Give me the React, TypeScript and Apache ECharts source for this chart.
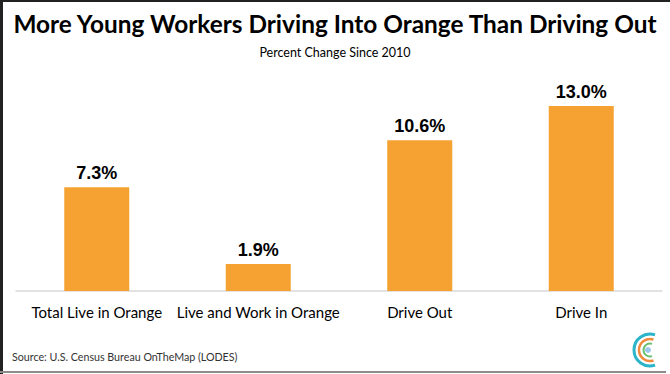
import React, { useEffect, useRef } from "react";
import * as echarts from "echarts";

const categories = ["Total Live in Orange", "Live and Work in Orange", "Drive Out", "Drive In"];
const changes = [7.3, 1.9, 10.6, 13.0];
const titleText = "More Young Workers Driving Into Orange Than Driving Out";
const subtitleText = "Percent Change Since 2010";
const sourceText = "Source: U.S. Census Bureau OnTheMap (LODES)";

export default function App() {
  const ref = useRef<HTMLDivElement>(null);
  useEffect(() => {
    if (!ref.current) return;
    const chart = echarts.init(ref.current, null, { renderer: "svg" });
    const cx = 650;
    const cy = 350;
    const a0 = 1.25;
    const a1 = Math.PI * 2 - 1.25;
    chart.setOption({
      animation: false,
      backgroundColor: "#ffffff",
      title: [
        {
          text: titleText,
          left: "center",
          top: 6,
          textStyle: { fontFamily: "Lato", fontWeight: "bold", fontSize: 24.4, color: "#000" },
        },
        {
          text: subtitleText,
          left: "center",
          top: 41,
          textStyle: { fontFamily: "Lato", fontWeight: "normal", fontSize: 12.5, color: "#000" },
        },
      ],
      grid: { left: 16, right: 8, top: 91.8, bottom: 83 },
      xAxis: {
        type: "category",
        data: categories,
        axisLine: { lineStyle: { color: "#d9d9d9", width: 1.5 } },
        axisTick: { show: false },
        axisLabel: { fontFamily: "Lato", fontSize: 15, color: "#000", margin: 13, interval: 0 },
      },
      yAxis: { type: "value", min: 0, max: 14, show: false, splitLine: { show: false } },
      series: [
        {
          type: "bar",
          data: changes,
          barWidth: 65,
          itemStyle: { color: "#F5A232" },
          label: {
            show: true,
            position: "top",
            distance: 5,
            formatter: (p: any) => `${Number(p.value).toFixed(1)}%`,
            fontFamily: "Liberation Sans",
            fontWeight: "bold",
            fontSize: 18,
            color: "#000",
          },
        },
      ],
      graphic: [
        { type: "rect", shape: { x: 0, y: 0, width: 3, height: 374 }, style: { fill: "#222" } },
        { type: "rect", shape: { x: 0, y: 0, width: 670, height: 2 }, style: { fill: "#222" } },
        { type: "rect", shape: { x: 0, y: 371, width: 666, height: 2 }, style: { fill: "#8c8c8c" } },
        {
          type: "text",
          left: 12,
          top: 351,
          style: { text: sourceText, fontFamily: "Lato", fontSize: 10.7, fill: "#333" },
        },
        {
          type: "arc",
          shape: { cx, cy, r: 16, startAngle: a0, endAngle: a1, clockwise: true },
          style: { stroke: "#2cb4c8", lineWidth: 3, fill: "none" },
        },
        {
          type: "arc",
          shape: { cx, cy, r: 11, startAngle: a0, endAngle: a1, clockwise: true },
          style: { stroke: "#f08a3c", lineWidth: 2.5, fill: "none" },
        },
        {
          type: "arc",
          shape: { cx, cy, r: 6.5, startAngle: a0, endAngle: a1, clockwise: true },
          style: { stroke: "#6cc070", lineWidth: 2, fill: "none" },
        },
        { type: "circle", shape: { cx: cx - 2, cy, r: 3 }, style: { fill: "#9cc8ee" } },
      ],
    });
    return () => chart.dispose();
  }, []);
  return (
    <div
      ref={ref}
      style={{ position: "absolute", left: 0, top: 0, width: 670, height: 374 }}
    />
  );
}
